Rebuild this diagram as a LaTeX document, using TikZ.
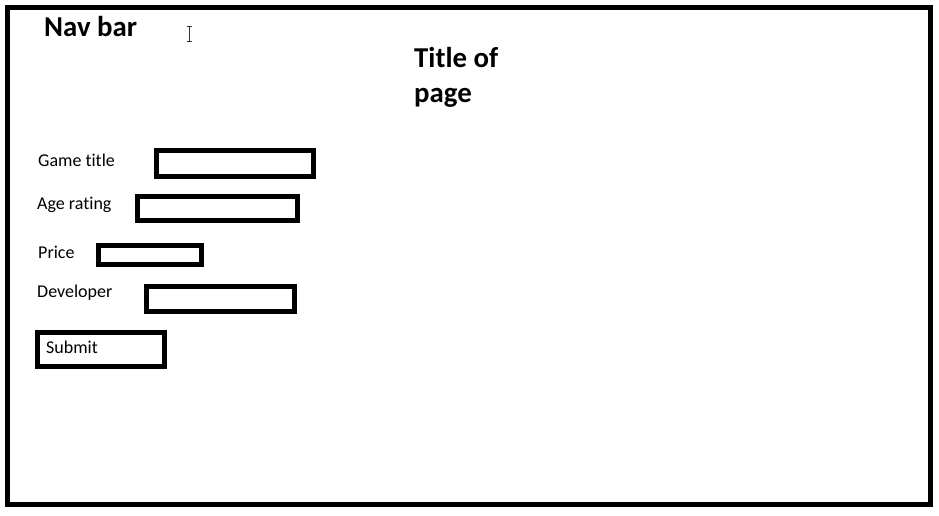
\documentclass[tikz,border=0pt]{standalone}
\usepackage{fontspec}
\setmainfont[Ligatures=NoCommon]{Carlito}
\tikzset{
  frame/.style={draw=black, line width=5pt},
  field/.style={draw=black, line width=5pt},
  lbl/.style={anchor=base west, inner sep=0pt, font=\fontsize{18}{20}\selectfont},
  head/.style={anchor=base west, inner sep=0pt, font=\bfseries\fontsize{28.8}{35}\selectfont, align=left},
}
\begin{document}
\begin{tikzpicture}[x=1pt,y=-1pt]
\useasboundingbox (0,0) rectangle (939,516);
\fill[white] (0,0) rectangle (939,516);
\draw[frame] (7.5,7.5) rectangle (930.5,504.5);
% headings
\node[head] (nav) at (44,36.5) {Nav bar};
\node[head, anchor=north west] (title) at (414,47) {Title of\\page};
% cursor
\draw[black!80, line width=0.9pt] (186.5,26) -- (191.5,26) (189,26) -- (189,41) (186.5,41) -- (191.5,41);
% labels
\node[lbl] (lgame) at (38,166) {Game title};
\node[lbl] (lage) at (37,209.5) {Age rating};
\node[lbl] (lprice) at (38,258) {Price};
\node[lbl] (ldev) at (37,297) {Developer};
% fields
\draw[field] (156.5,150.5) rectangle (313.5,176) coordinate (fgame);
\draw[field] (137.5,196.5) rectangle (297,220.5) coordinate (fage);
\draw[field] (98.5,245) rectangle (201.5,264) coordinate (fprice);
\draw[field] (146.5,286.5) rectangle (294,311) coordinate (fdev);
% submit
\draw[field] (37.5,332.5) rectangle (164,366);
\node[lbl] (submit) at (46,353) {Submit};
\end{tikzpicture}
\end{document}
